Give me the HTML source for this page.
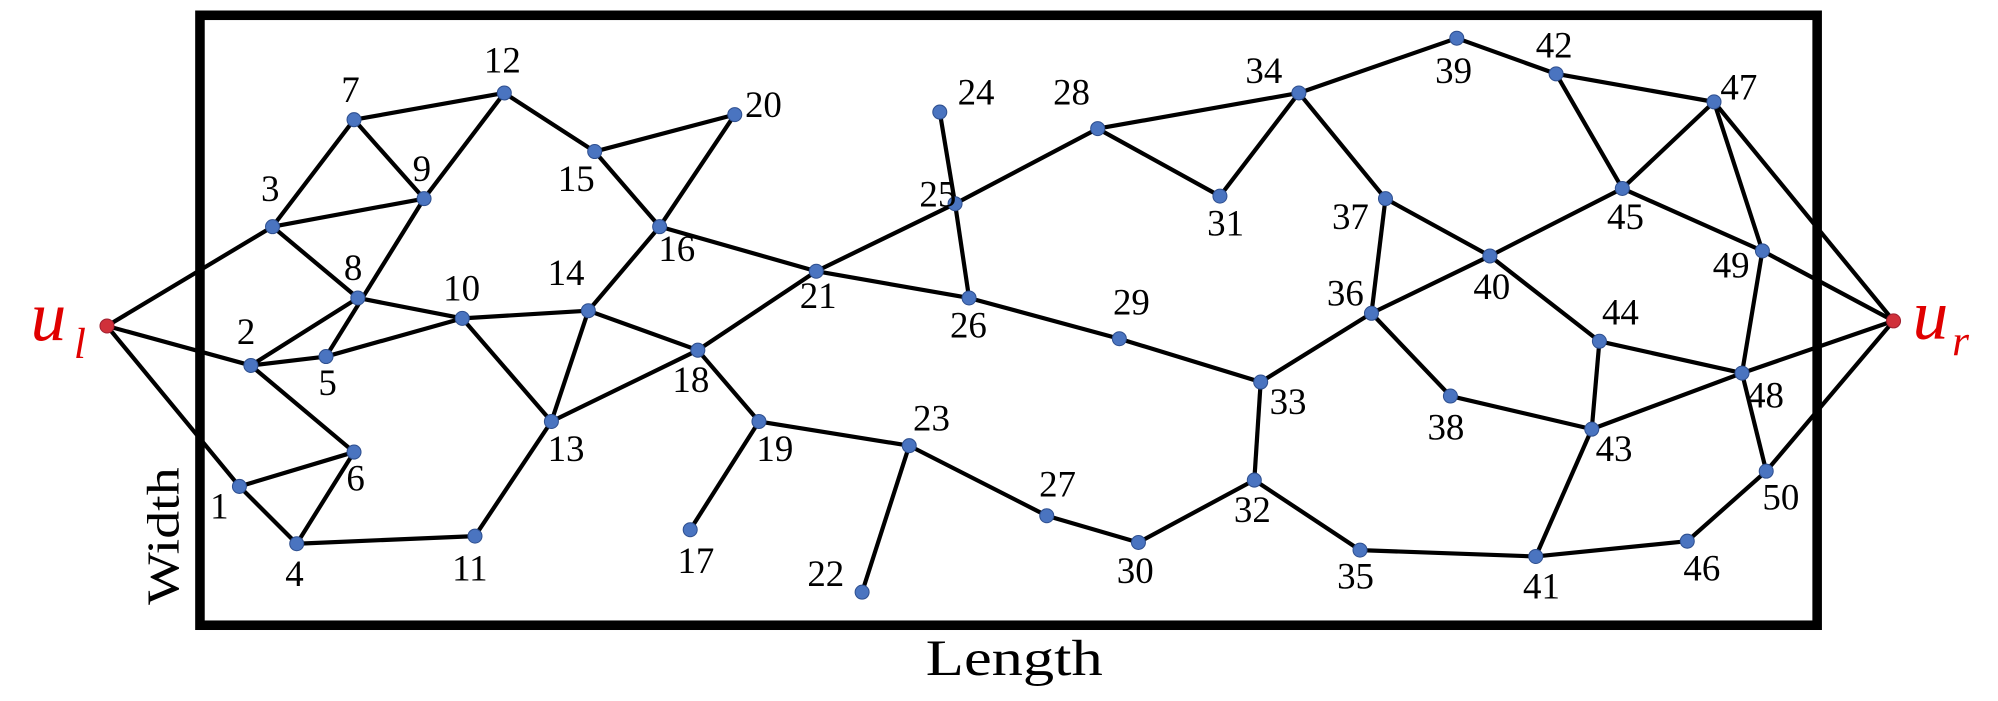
<!DOCTYPE html>
<html><head><meta charset="utf-8"><style>html,body{margin:0;padding:0;background:#fff}svg{display:block}</style></head>
<body>
<svg width="1998" height="701" viewBox="0 0 1569 550.5" xmlns="http://www.w3.org/2000/svg" font-family="Liberation Serif, serif">
<rect x="157" y="12" width="1270" height="479" fill="none" stroke="#000" stroke-width="7.5"/>
<g stroke="#000" stroke-width="3.3" id="e"></g>
<g id="n"></g>
<g font-size="29" fill="#000" id="l"></g>
<text x="24" y="267" font-size="56" font-style="italic" fill="#e00000">u</text>
<text x="58" y="281" font-size="34" font-style="italic" fill="#e00000">l</text>
<text x="1502" y="266" font-size="56" font-style="italic" fill="#e00000">u</text>
<text x="1533" y="279" font-size="34" font-style="italic" fill="#e00000">r</text>
<text transform="translate(140,475) rotate(-90)" font-size="36" textLength="108" lengthAdjust="spacingAndGlyphs">Width</text>
<text x="727" y="530" font-size="40" textLength="139" lengthAdjust="spacingAndGlyphs">Length</text>
<script>
var P={ul:[84,256],ur:[1487,252],1:[188,382],2:[197,287],3:[214,178],4:[233,427],5:[256,280],6:[278,355],7:[278,94],8:[281,234],9:[333,156],10:[363,250],11:[373,421],12:[396,73],13:[433,331],14:[462,244],15:[467,119],16:[518,178],17:[542,416],18:[548,275],19:[596,331],20:[577,90],21:[641,213],22:[677,465],23:[714,350],24:[738,88],25:[750,160],26:[761,234],27:[822,405],28:[862,101],29:[879,266],30:[894,426],31:[958,154],32:[985,377],33:[990,300],34:[1020,73],35:[1068,432],36:[1077,246],37:[1088,156],38:[1139,311],39:[1144,30],40:[1170,201],41:[1206,437],42:[1222,58],43:[1250,337],44:[1256,268],45:[1274,148],46:[1325,425],47:[1346,80],48:[1368,293],49:[1384,197],50:[1387,370]};
var E="ul-3 ul-2 ul-1 3-7 3-9 3-8 7-9 7-12 9-12 9-5 8-2 8-10 2-5 5-10 2-6 6-1 6-4 1-4 4-11 11-13 10-13 10-14 14-13 14-16 14-18 13-18 12-15 15-20 15-16 20-16 16-21 21-18 21-25 21-26 18-19 19-17 19-23 23-22 23-27 27-30 30-32 32-33 32-35 33-29 29-26 26-25 25-24 25-28 28-31 28-34 31-34 34-39 34-37 39-42 42-47 42-45 45-47 45-40 45-49 47-49 47-ur 49-48 49-ur 37-36 37-40 36-40 36-33 36-38 38-43 40-44 44-48 44-43 43-48 43-41 35-41 41-46 46-50 50-48 50-ur 48-ur".split(" ");
var L={1:[165,407],2:[186,270],3:[205,158],4:[224,460],5:[250,310],6:[272,385],7:[268,80],8:[270,220],9:[324,142],10:[348,236],11:[355,456],12:[380,57],13:[430,362],14:[430,224],15:[438,150],16:[517,205],17:[532,450],18:[528,308],19:[594,362],20:[585,92],21:[628,242],22:[634,460],23:[717,338],24:[752,82],25:[722,162],26:[746,265],27:[816,390],28:[827,82],29:[874,247],30:[877,458],31:[948,185],32:[969,410],33:[997,325],34:[978,65],35:[1050,462],36:[1042,240],37:[1046,180],38:[1121,345],39:[1127,65],40:[1157,235],41:[1196,470],42:[1206,45],43:[1253,362],44:[1258,255],45:[1262,180],46:[1322,456],47:[1351,78],48:[1372,320],49:[1345,218],50:[1384,400]};
var ns="http://www.w3.org/2000/svg",e=document.getElementById("e"),n=document.getElementById("n"),l=document.getElementById("l");
E.forEach(function(s){var a=s.split("-"),p=P[a[0]],q=P[a[1]],t=document.createElementNS(ns,"line");t.setAttribute("x1",p[0]);t.setAttribute("y1",p[1]);t.setAttribute("x2",q[0]);t.setAttribute("y2",q[1]);e.appendChild(t);});
for(var k in P){var c=document.createElementNS(ns,"circle");c.setAttribute("cx",P[k][0]);c.setAttribute("cy",P[k][1]);c.setAttribute("r",5.5);c.setAttribute("fill",(k=="ul"||k=="ur")?"#d0303a":"#4a74c0");c.setAttribute("stroke",(k=="ul"||k=="ur")?"#a02030":"#2e4f8f");c.setAttribute("stroke-width","0.8");n.appendChild(c);}
for(var k in L){var t=document.createElementNS(ns,"text");t.setAttribute("x",L[k][0]);t.setAttribute("y",L[k][1]);t.textContent=k;l.appendChild(t);}
</script>
</svg>
</body></html>
